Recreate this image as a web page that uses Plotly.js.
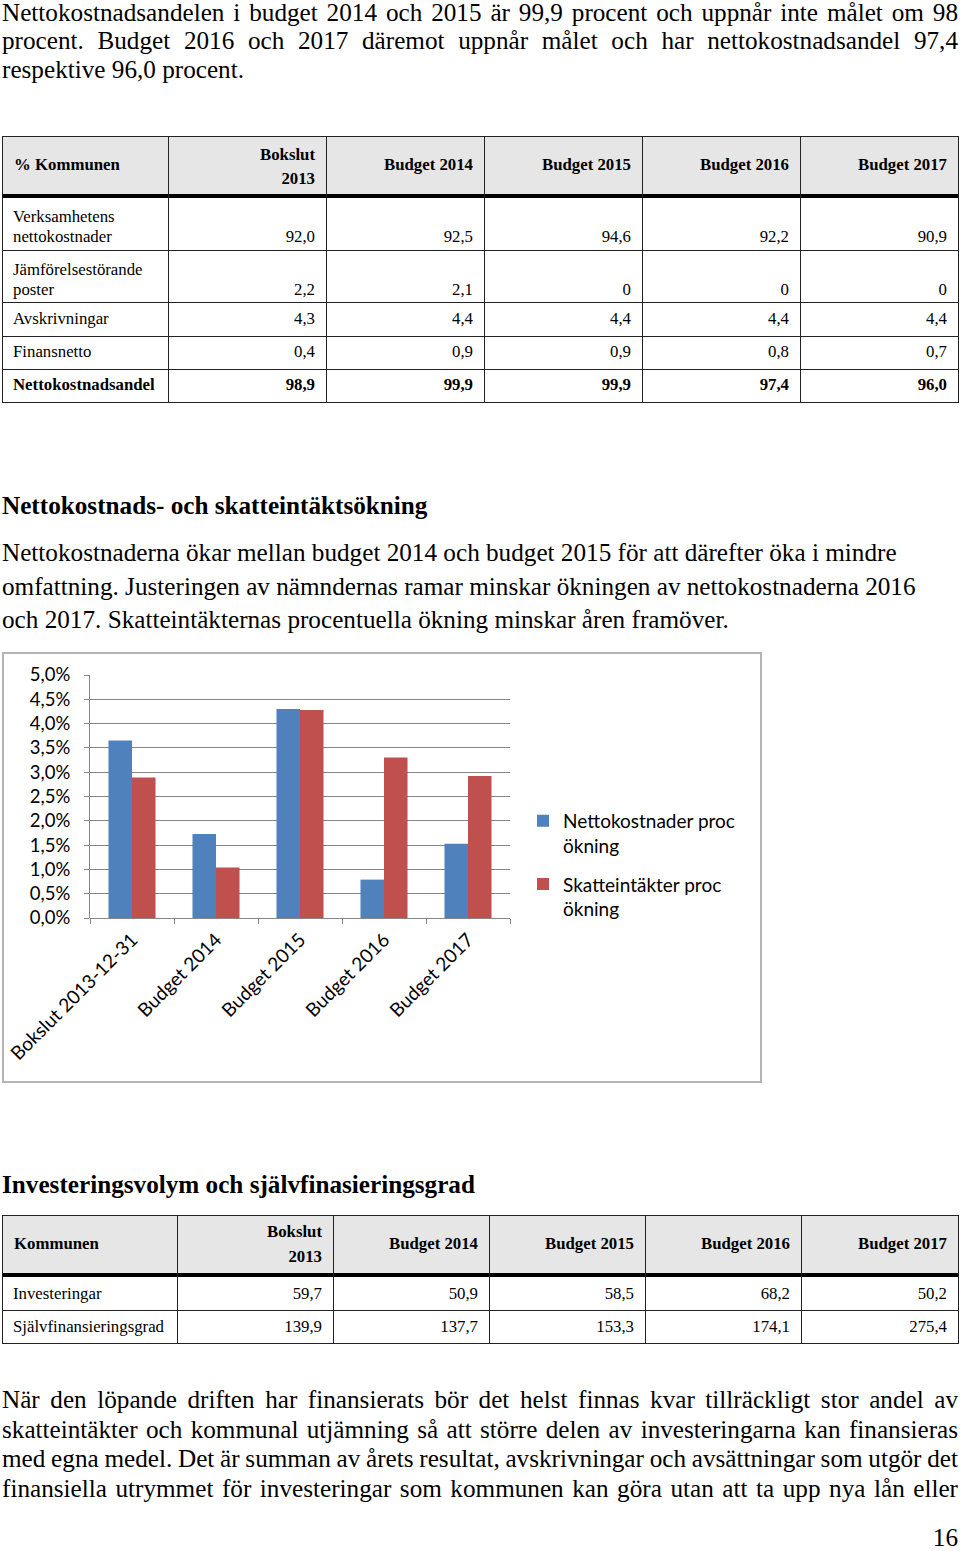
<!DOCTYPE html>
<html>
<head>
<meta charset="utf-8">
<script src="https://cdn.plot.ly/plotly-3.0.1.min.js"></script>
<style>
  html, body { margin:0; padding:0; background:#fff; }
  body { width:960px; height:1551px; position:relative; overflow:hidden; font-family:"Liberation Serif","Times New Roman",serif; color:#000; }
  .t { position:absolute; white-space:nowrap; line-height:30px; height:30px; }
  .ln { position:absolute; background:#222; }
  #chartBox { position:absolute; left:2px; top:652px; width:760px; height:431px; box-sizing:border-box; border:2px solid #b4b4b4; background:#fff; }
  #chart { position:absolute; left:0; top:0; width:756px; height:427px; }
</style>
</head>
<body>
<div id="chartBox"><div id="chart"></div></div>
<script>
// ---------- Chart data ----------
const categories = ['Bokslut 2013-12-31', 'Budget 2014', 'Budget 2015', 'Budget 2016', 'Budget 2017'];
const nettokostnaderOkning = [3.65, 1.73, 4.30, 0.79, 1.53];
const skatteintakterOkning = [2.89, 1.04, 4.28, 3.30, 2.92];
const seriesNames = ['Nettokostnader proc<br>ökning', 'Skatteintäkter proc<br>ökning'];
const yTickVals = [0, 0.5, 1, 1.5, 2, 2.5, 3, 3.5, 4, 4.5, 5];
const yTickText = ['0,0%', '0,5%', '1,0%', '1,5%', '2,0%', '2,5%', '3,0%', '3,5%', '4,0%', '4,5%', '5,0%'];

// ---------- Table 1 data ----------
const t1Header = ['% Kommunen', 'Bokslut<br>2013', 'Budget 2014', 'Budget 2015', 'Budget 2016', 'Budget 2017'];
const t1Labels = [['Verksamhetens', 'nettokostnader'], ['Jämförelsestörande', 'poster'], ['Avskrivningar'], ['Finansnetto'], ['Nettokostnadsandel']];
const t1Verksamhet = ['92,0', '92,5', '94,6', '92,2', '90,9'];
const t1Jamforelse = ['2,2', '2,1', '0', '0', '0'];
const t1Avskrivningar = ['4,3', '4,4', '4,4', '4,4', '4,4'];
const t1Finansnetto = ['0,4', '0,9', '0,9', '0,8', '0,7'];
const t1Nettoandel = ['98,9', '99,9', '99,9', '97,4', '96,0'];

// ---------- Table 2 data ----------
const t2Header = ['Kommunen', 'Bokslut<br>2013', 'Budget 2014', 'Budget 2015', 'Budget 2016', 'Budget 2017'];
const t2Labels = ['Investeringar', 'Självfinansieringsgrad'];
const t2Investeringar = ['59,7', '50,9', '58,5', '68,2', '50,2'];
const t2Sjalvfin = ['139,9', '137,7', '153,3', '174,1', '275,4'];

// ---------- helpers ----------
const FS = 25.2;
function baseTop(baseline, fs) { return baseline - ((30 - 1.107 * fs) / 2 + 0.891 * fs); }
function text(str, x, baseline, o) {
  o = o || {};
  const fs = o.fs || FS;
  const d = document.createElement('div');
  d.className = 't';
  d.style.fontSize = fs + 'px';
  d.style.top = baseTop(baseline, fs) + 'px';
  if (o.bold) d.style.fontWeight = 'bold';
  if (o.right) { d.style.right = (960 - x) + 'px'; }
  else { d.style.left = x + 'px'; }
  d.textContent = str;
  document.body.appendChild(d);
  if (o.justify) {
    const w = d.getBoundingClientRect().width;
    const spaces = (str.match(/ /g) || []).length;
    if (spaces > 0) d.style.wordSpacing = ((o.width - w) / spaces) + 'px';
  }
}
function line(x, y, w, h, c) {
  const d = document.createElement('div');
  d.className = 'ln';
  d.style.left = x + 'px'; d.style.top = y + 'px'; d.style.width = w + 'px'; d.style.height = h + 'px';
  if (c) d.style.background = c;
  document.body.appendChild(d);
}

// ---------- paragraph 1 ----------
text('Nettokostnadsandelen i budget 2014 och 2015 är 99,9 procent och uppnår inte målet om 98', 2, 21, {justify:true, width:956});
text('procent. Budget 2016 och 2017 däremot uppnår målet och har nettokostnadsandel 97,4', 2, 50, {justify:true, width:956});
text('respektive 96,0 procent.', 2, 79);

// ---------- table builder ----------
function buildTable(cols, top, headBottom, thick, rowBottoms, header, headBase, headBase2, labels, rows, rowBases, fs, boldLast) {
  const W = cols[cols.length-1] - cols[0];
  line(cols[0], top, W, headBottom - top, '#e6e6e6');
  line(cols[0], top, W + 1, 1);
  line(cols[0], headBottom, W + 1, thick, '#000');
  rowBottoms.forEach(function (y) { line(cols[0], y, W + 1, 1); });
  const bottom = rowBottoms[rowBottoms.length - 1];
  cols.forEach(function (x) { line(x, top, 1, bottom - top + 1); });
  header.forEach(function (h, i) {
    const parts = h.split('<br>');
    if (i === 0) { text(h, cols[0] + 12, headBase, {fs:fs, bold:true}); return; }
    const rx = cols[i + 1] - 11;
    if (parts.length === 2) {
      text(parts[0], rx, headBase2[0], {fs:fs, bold:true, right:true});
      text(parts[1], rx, headBase2[1], {fs:fs, bold:true, right:true});
    } else {
      text(h, rx, headBase, {fs:fs, bold:true, right:true});
    }
  });
  rows.forEach(function (vals, r) {
    const lab = labels[r];
    const b = rowBases[r];
    const isBold = boldLast && (r === rows.length - 1);
    if (Array.isArray(lab) && lab.length === 2) {
      text(lab[0], cols[0] + 11, b - 20, {fs:fs});
      text(lab[1], cols[0] + 11, b, {fs:fs});
    } else {
      text(Array.isArray(lab) ? lab[0] : lab, cols[0] + 11, b, {fs:fs, bold:isBold});
    }
    vals.forEach(function (v, i) { text(v, cols[i + 2] - 11, b, {fs:fs, bold:isBold, right:true}); });
  });
}

buildTable([2, 168, 326, 484, 642, 800, 958], 136, 194, 4, [250, 302, 336, 369, 402],
  t1Header, 171, [160.5, 185], t1Labels,
  [t1Verksamhet, t1Jamforelse, t1Avskrivningar, t1Finansnetto, t1Nettoandel],
  [243, 296, 325, 358, 391], 16.8, true);

// ---------- heading + paragraph 2 ----------
text('Nettokostnads- och skatteintäktsökning', 2, 515, {bold:true});
text('Nettokostnaderna ökar mellan budget 2014 och budget 2015 för att därefter öka i mindre', 2, 562);
text('omfattning. Justeringen av nämndernas ramar minskar ökningen av nettokostnaderna 2016', 2, 595.5);
text('och 2017. Skatteintäkternas procentuella ökning minskar åren framöver.', 2, 629);

// ---------- heading 3 + table 2 ----------
text('Investeringsvolym och självfinasieringsgrad', 2, 1194, {bold:true});
buildTable([2, 177, 333, 489, 645, 801, 958], 1215, 1273, 4, [1310, 1343],
  t2Header, 1250, [1238, 1263], t2Labels,
  [t2Investeringar, t2Sjalvfin], [1300, 1333], 16.8, false);

// ---------- paragraph 4 ----------
text('När den löpande driften har finansierats bör det helst finnas kvar tillräckligt stor andel av', 2, 1409, {justify:true, width:956});
text('skatteintäkter och kommunal utjämning så att större delen av investeringarna kan finansieras', 2, 1438.5, {justify:true, width:956});
text('med egna medel. Det är summan av årets resultat, avskrivningar och avsättningar som utgör det', 2, 1468, {justify:true, width:956});
text('finansiella utrymmet för investeringar som kommunen kan göra utan att ta upp nya lån eller', 2, 1497.5, {justify:true, width:956});
text('16', 958, 1547, {right:true});

// ---------- chart ----------
const gridC = '#868686';
const traces = [
  {type:'bar', name:seriesNames[0], x:categories, y:nettokostnaderOkning, marker:{color:'#4F81BD'}, legendgroup:'a', hoverinfo:'none'},
  {type:'bar', name:seriesNames[1], x:categories, y:skatteintakterOkning, marker:{color:'#C0504D'}, legendgroup:'b', hoverinfo:'none'}
];
const layout = {
  width:756, height:427,
  margin:{l:86, r:250, t:21, b:163, pad:0},
  paper_bgcolor:'rgba(0,0,0,0)', plot_bgcolor:'rgba(0,0,0,0)',
  barmode:'group', bargap:0.44, bargroupgap:0,
  font:{family:'Lato, "Open Sans", sans-serif', size:18, color:'#000'},
  showlegend:true,
  xaxis:{type:'category', tickson:'boundaries', ticks:'outside', ticklen:5, tickwidth:1, tickcolor:gridC,
         tickangle:-45, showgrid:false, showline:false, zeroline:false, tickfont:{size:19}, ticklabelstandoff:6, fixedrange:true},
  yaxis:{range:[0, 5], tickmode:'array', tickvals:yTickVals, ticktext:yTickText, showgrid:true, gridcolor:gridC, gridwidth:1,
         ticks:'outside', ticklen:5, tickcolor:gridC, showline:true, linecolor:gridC, linewidth:1,
         zeroline:true, zerolinecolor:gridC, zerolinewidth:1, ticklabelstandoff:10, tickfont:{size:18.5}, fixedrange:true},
  legend:{x:1.031, y:0.478, xanchor:'left', yanchor:'top', valign:'top', traceorder:'grouped',
          tracegroupgap:11, font:{size:19}, bgcolor:'rgba(0,0,0,0)'}
};
Plotly.newPlot('chart', traces, layout, {staticPlot:true, displayModeBar:false});
</script>
</body>
</html>
